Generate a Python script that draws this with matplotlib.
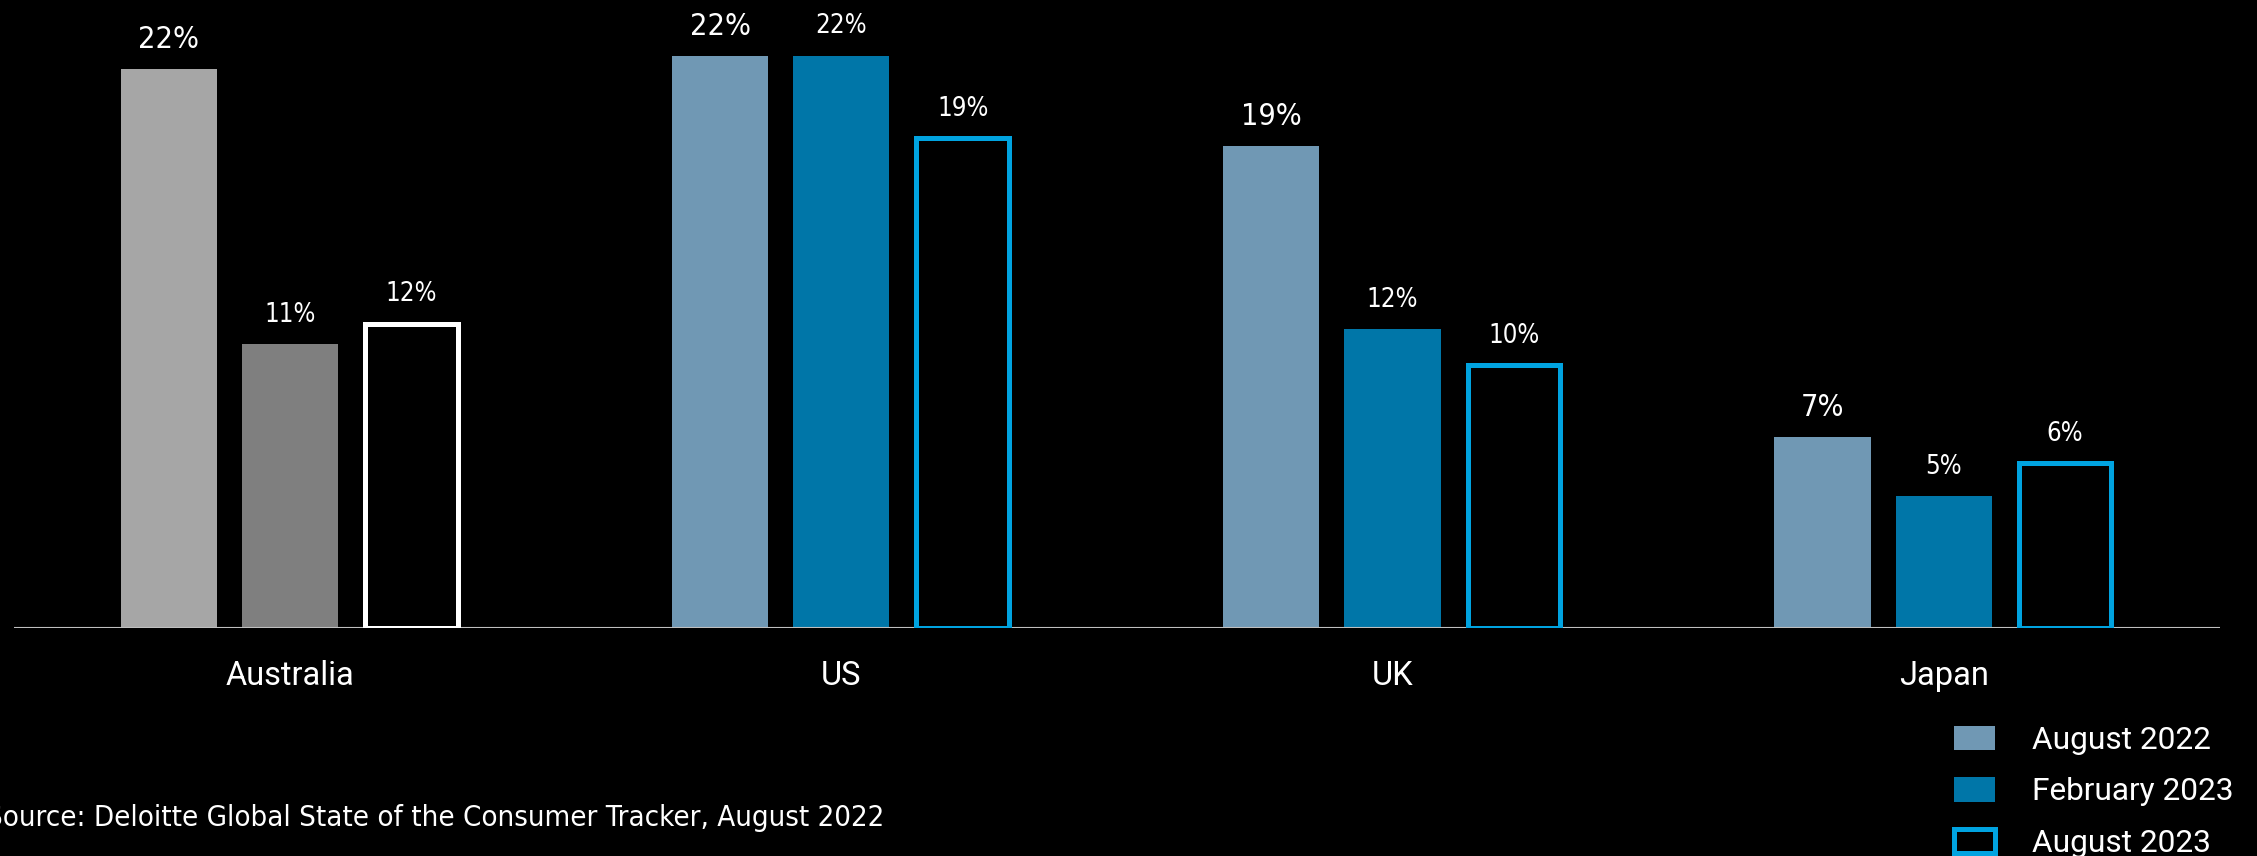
import matplotlib
matplotlib.use("Agg")
import matplotlib.pyplot as plt
import numpy as np
from matplotlib.patches import Patch

# Share of consumers (%) by country and survey wave
countries = ["Australia", "US", "UK", "Japan"]
series = ["August 2022", "February 2023", "August 2023"]
aug_2022 = [21.7, 22.2, 18.7, 7.4]
feb_2023 = [11.0, 22.2, 11.6, 5.1]
aug_2023 = [11.8, 19.0, 10.2, 6.4]
source_note = "Source: Deloitte Global State of the Consumer Tracker, August 2022"

BG = "black"
BLUE_LIGHT = "#7098B4"
BLUE_DARK = "#0076A8"
BLUE_BRIGHT = "#00A3E0"
GRAY_LIGHT = "#A6A6A6"
GRAY_DARK = "#7F7F7F"
AXIS_GRAY = "#BFBFBF"

plt.rcParams["font.family"] = ["Roboto", "DejaVu Sans"]
NARROW = dict(family="DejaVu Sans", stretch="condensed")

fig = plt.figure(figsize=(22.57, 8.56), dpi=100, facecolor=BG)
ax = fig.add_axes([0.0064, 0.2668, 0.977, 0.7332])
ax.set_facecolor(BG)

x = np.arange(len(countries))
offset = 0.22
w_fill = 0.1746
w_line = 0.168
lw = 3.6

# Australia is shown in grays, the other markets in blues
fill_a = [GRAY_LIGHT] + [BLUE_LIGHT] * 3
fill_b = [GRAY_DARK] + [BLUE_DARK] * 3
edge_c = ["white"] + [BLUE_BRIGHT] * 3

b1 = ax.bar(x - offset, aug_2022, w_fill, color=fill_a, zorder=2)
b2 = ax.bar(x, feb_2023, w_fill, color=fill_b, zorder=2)
b3 = ax.bar(x + offset, aug_2023, w_line, facecolor="none",
            edgecolor=edge_c, linewidth=lw, zorder=3)

ax.axhline(0, color=AXIS_GRAY, lw=1.5, zorder=2.5)

for bars, vals, fs in ((b1, aug_2022, 22), (b2, feb_2023, 18.5), (b3, aug_2023, 18.5)):
    for rect, v in zip(bars, vals):
        ax.annotate(f"{v:.0f}%", (rect.get_x() + rect.get_width() / 2, v),
                    xytext=(0, 21), textcoords="offset points",
                    ha="center", va="center", color="white",
                    fontsize=fs, **NARROW)

ax.set_xlim(-0.5, 3.5)
ax.set_ylim(0, 24.36)
ax.set_yticks([])
ax.set_xticks(x, countries)
ax.tick_params(axis="x", length=0, pad=23, labelsize=23.5, labelcolor="white")
for s in ax.spines.values():
    s.set_visible(False)

handles = [Patch(facecolor=BLUE_LIGHT),
           Patch(facecolor=BLUE_DARK),
           Patch(facecolor="none", edgecolor=BLUE_BRIGHT, linewidth=lw)]
fig.legend(handles, series, loc="upper left",
           bbox_to_anchor=(1954 / 2257, 1 - 726 / 856),
           frameon=False, fontsize=22.8, labelcolor="white",
           handlelength=1.3, handleheight=0.8, handletextpad=1.15,
           labelspacing=0.70, borderpad=0, borderaxespad=0)

fig.text(-14 / 2257, 1 - 818 / 856, source_note, ha="left", va="center",
         fontsize=21.1, color="white", **NARROW)

fig.savefig("out.png", dpi=100, facecolor=BG)
